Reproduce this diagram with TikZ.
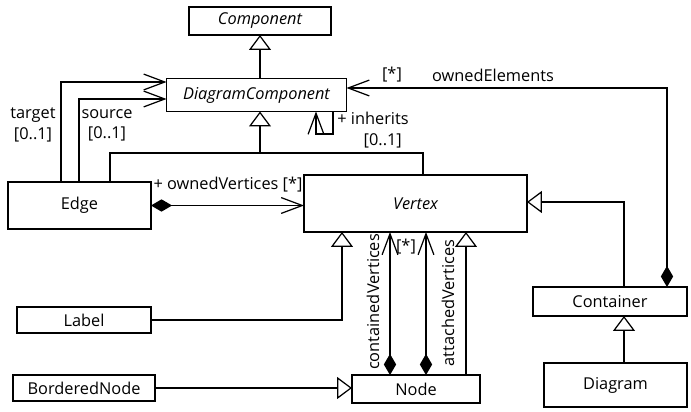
\documentclass[tikz,border=0pt]{standalone}
\usepackage{fontspec}
\setmainfont{Open Sans}
\usepackage{tikz}
\usetikzlibrary{arrows.meta}

\begin{document}
\begin{tikzpicture}[x=0.02cm,y=-0.02cm,
    cls/.style={draw,line width=0.7pt,inner sep=0pt,outer sep=0pt,font=\fontsize{9.3}{11.5}\selectfont},
    txt/.style={inner sep=0pt,font=\fontsize{9.3}{11.5}\selectfont},
    gen/.style={line width=0.7pt,-{Triangle[open,length=8.5pt,width=12.5pt]}},
    assoc/.style={line width=0.7pt,-{Straight Barb[length=12pt,width=9pt]}},
    compo/.style={line width=0.7pt,{Diamond[length=12pt,width=7pt]}-{Straight Barb[length=12pt,width=9pt]}}]
        \useasboundingbox (0,0) rectangle (691,412);
        %%% classes
        \node[cls,minimum width=2.84cm,minimum height=0.56cm,font=\fontsize{9.3}{11.5}\selectfont\itshape] (comp) at (260,21) {Component};
        \node[cls,minimum width=3.6cm,minimum height=0.66cm,font=\fontsize{9.3}{11.5}\selectfont\itshape] (dc) at (256.5,95) {DiagramComponent};
        \node[cls,minimum width=2.86cm,minimum height=0.94cm] (edge) at (79.5,205.5) {Edge};
        \node[cls,minimum width=4.46cm,minimum height=1.14cm,font=\fontsize{9.3}{11.5}\selectfont\itshape] (vertex) at (415.5,203.5) {Vertex};
        \node[cls,minimum width=2.68cm,minimum height=0.52cm] (label) at (84,320) {Label};
        \node[cls,minimum width=2.84cm,minimum height=0.52cm] (bnode) at (84,388) {BorderedNode};
        \node[cls,minimum width=2.56cm,minimum height=0.56cm] (nodeb) at (416,389) {Node};
        \node[cls,minimum width=3.08cm,minimum height=0.58cm] (cont) at (610,301.5) {Container};
        \node[cls,minimum width=2.86cm,minimum height=0.88cm] (diag) at (615.5,385) {Diagram};
        %%% bend points
        \coordinate (hub) at (260,153);
        \coordinate (kL) at (110,153);
        \coordinate (kR) at (423,153);
        \coordinate (tg) at (61,82);
        \coordinate (sc) at (79,99);
        \coordinate (ihR) at (333,134);
        \coordinate (ihL) at (316,134);
        \coordinate (oe) at (667,88);
        \coordinate (lb) at (342,321);
        \coordinate (cv) at (390,300);
        \coordinate (av) at (426,300);
        \coordinate (ni) at (466,300);
        \coordinate (cg) at (624,202);
        %%% generalisations
        \draw[gen] (dc.north -| comp) -- (comp);
        \draw[gen] (hub) -- (dc.south -| hub);
        \draw[line width=0.7pt] (edge.north -| kL) -- (kL) -- (kR) -- (vertex.north -| kR);
        \draw[gen] (label.east) -| (vertex.south -| lb);
        \draw[gen] (bnode.east) -- (nodeb.west |- bnode.east);
        \draw[gen] (nodeb.north -| ni) -- (vertex.south -| ni);
        \draw[gen] (cont.north -| cg) |- (vertex.east |- cg);
        \draw[gen] (diag.north -| cg) -- (cont.south -| cg);
        %%% associations
        \draw[assoc] (edge.north -| tg) |- (dc.west |- tg);
        \draw[assoc] (edge.north -| sc) |- (dc.west |- sc);
        \draw[assoc] (dc.south -| ihR) -- (ihR) -- (ihL) -- (dc.south -| ihL);
        \draw[compo] (cont.north -| oe) |- (dc.east |- oe);
        \draw[compo] (edge.east) -- (vertex.west |- edge.east);
        \draw[compo] (nodeb.north -| cv) -- (vertex.south -| cv);
        \draw[compo] (nodeb.north -| av) -- (vertex.south -| av);
        %%% role names
        \node[txt,align=center] (tgl) at (33,125) {target\\{}[0..1]};
        \node[txt,align=center] (scl) at (107,125) {source\\{}[0..1]};
        \node[txt,align=center] (ihl) at (373,130) {+ inherits\\{}\hspace*{1.2em}[0..1]};
        \node[txt] (oem) at (392,75) {[*]};
        \node[txt] (oel) at (493,75) {ownedElements};
        \node[txt] (ovl) at (228,185) {+ ownedVertices [*]};
        \node[txt,rotate=90] (cvl) at (373,302) {containedVertices};
        \node[txt] (cvm) at (406,247) {[*]};
        \node[txt,rotate=90] (avl) at (448,303) {attachedVertices};
\end{tikzpicture}
\end{document}
